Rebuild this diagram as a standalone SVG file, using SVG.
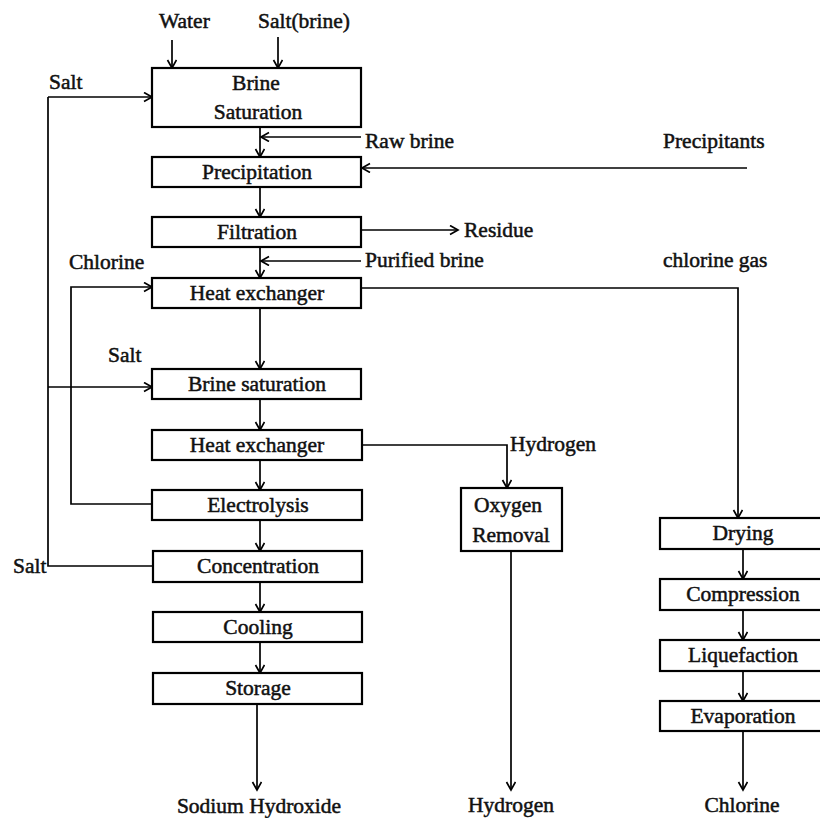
<svg xmlns="http://www.w3.org/2000/svg" width="820" height="818" viewBox="0 0 820 818">
<defs>
<marker id="arr" markerUnits="userSpaceOnUse" markerWidth="12" markerHeight="12" refX="9" refY="5" orient="auto">
<path d="M1,0.5 L9,5 L1,9.5" fill="none" stroke="#000" stroke-width="1.7"/>
</marker>
<style>
.box{fill:#fff;stroke:#000;stroke-width:2.2}
.ln{fill:none;stroke:#000;stroke-width:1.7}
.a{marker-end:url(#arr)}
text{font-family:"Liberation Serif","Times New Roman",serif;font-size:21.5px;fill:#111;stroke:#111;stroke-width:0.5}
.c{text-anchor:middle}
</style>
</defs>
<rect width="820" height="818" fill="#fff"/>
<g id="connectors">
<path class="ln a" d="M172,40 L172,68"/>
<path class="ln a" d="M278,37 L278,68"/>
<path class="ln" d="M152,566 L48,566 L48,97"/>
<path class="ln a" d="M48,97 L152,97"/>
<path class="ln a" d="M48,387 L152,387"/>
<path class="ln a" d="M361,137 L261,137"/>
<path class="ln a" d="M260,127 L260,157"/>
<path class="ln a" d="M747,168 L362,168"/>
<path class="ln a" d="M260,187 L260,217"/>
<path class="ln a" d="M361,230 L458,230"/>
<path class="ln a" d="M260,247 L260,278"/>
<path class="ln a" d="M361,261 L261,261"/>
<path class="ln a" d="M152,504 L71,504 L71,287 L152,287"/>
<path class="ln a" d="M260,308 L260,369"/>
<path class="ln a" d="M361,288 L738,288 L738,518"/>
<path class="ln a" d="M260,399 L260,430"/>
<path class="ln a" d="M260,460 L260,490"/>
<path class="ln a" d="M361,445 L507,445 L507,488"/>
<path class="ln a" d="M260,520 L260,551"/>
<path class="ln a" d="M260,582 L260,612"/>
<path class="ln a" d="M260,642 L260,673"/>
<path class="ln a" d="M257,704 L257,790"/>
<path class="ln a" d="M511,551 L511,790"/>
<path class="ln a" d="M743,549 L743,579"/>
<path class="ln a" d="M743,610 L743,640"/>
<path class="ln a" d="M743,671 L743,701"/>
<path class="ln a" d="M743,731 L743,790"/>
</g>
<g id="labels">
<text x="159" y="28">Water</text>
<text x="258" y="28">Salt(brine)</text>
<text x="49" y="89">Salt</text>
<text x="365" y="148">Raw brine</text>
<text x="663" y="148">Precipitants</text>
<text x="464" y="237">Residue</text>
<text x="365" y="267">Purified brine</text>
<text x="663" y="267">chlorine gas</text>
<text x="69" y="269">Chlorine</text>
<text x="108" y="362">Salt</text>
<text x="510" y="451">Hydrogen</text>
<text x="13" y="573">Salt</text>
<text class="c" x="259" y="813">Sodium Hydroxide</text>
<text class="c" x="511" y="812">Hydrogen</text>
<text class="c" x="742" y="812">Chlorine</text>
</g>
<g id="brine-saturation-1"><rect class="box" x="152" y="68" width="209" height="59"/><text class="c" x="256" y="90">Brine</text><text class="c" x="258" y="119">Saturation</text></g>
<g id="precipitation"><rect class="box" x="152" y="157" width="209" height="30"/><text class="c" x="257" y="179">Precipitation</text></g>
<g id="filtration"><rect class="box" x="152" y="217" width="209" height="30"/><text class="c" x="257" y="239">Filtration</text></g>
<g id="heat-exchanger-1"><rect class="box" x="152" y="278" width="209" height="30"/><text class="c" x="257" y="300">Heat exchanger</text></g>
<g id="brine-saturation-2"><rect class="box" x="152" y="369" width="209" height="30"/><text class="c" x="257" y="391">Brine saturation</text></g>
<g id="heat-exchanger-2"><rect class="box" x="152" y="430" width="210" height="30"/><text class="c" x="257" y="452">Heat exchanger</text></g>
<g id="electrolysis"><rect class="box" x="152" y="490" width="210" height="30"/><text class="c" x="258" y="512">Electrolysis</text></g>
<g id="concentration"><rect class="box" x="153" y="551" width="209" height="31"/><text class="c" x="258" y="573">Concentration</text></g>
<g id="cooling"><rect class="box" x="153" y="612" width="209" height="30"/><text class="c" x="258" y="634">Cooling</text></g>
<g id="storage"><rect class="box" x="153" y="673" width="209" height="31"/><text class="c" x="258" y="695">Storage</text></g>
<g id="oxygen-removal"><rect class="box" x="461" y="488" width="101" height="63"/><text class="c" x="508" y="512">Oxygen</text><text class="c" x="511" y="542">Removal</text></g>
<g id="drying"><rect class="box" x="660" y="518" width="170" height="31"/><text class="c" x="743" y="540">Drying</text></g>
<g id="compression"><rect class="box" x="660" y="579" width="170" height="31"/><text class="c" x="743" y="601">Compression</text></g>
<g id="liquefaction"><rect class="box" x="660" y="640" width="170" height="31"/><text class="c" x="743" y="662">Liquefaction</text></g>
<g id="evaporation"><rect class="box" x="660" y="701" width="170" height="30"/><text class="c" x="743" y="723">Evaporation</text></g>
</svg>
